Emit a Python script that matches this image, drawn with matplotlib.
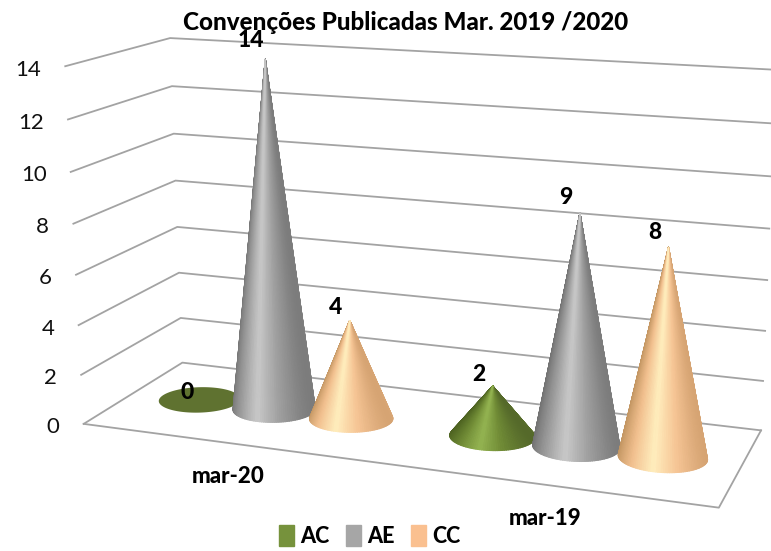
import numpy as np
import matplotlib
matplotlib.use('Agg')
import matplotlib.pyplot as plt
from matplotlib.collections import PolyCollection
from matplotlib.colors import LinearSegmentedColormap
from matplotlib.patches import Patch

plt.rcParams['font.family'] = ['Lato', 'DejaVu Sans']

# Data
months = ['mar-20', 'mar-19']
series = ['AC', 'AE', 'CC']
ac_values = [0, 2]
ae_values = [14, 9]
cc_values = [4, 8]
y_ticks = [0, 2, 4, 6, 8, 10, 12, 14]
y_max = 14

# Colours: edge, mid, highlight
ramps = {
    'AC': ['#4c6120', '#6f8a35', '#93b350', '#6f8a35', '#55692a'],
    'AE': ['#6e6e6e', '#9a9a9a', '#c8c8c8', '#a0a0a0', '#7c7c7c'],
    'CC': ['#c0935f', '#f2c08f', '#ffedbd', '#f6c595', '#d6a473'],
}
legend_colors = {'AC': '#76923c', 'AE': '#a6a6a6', 'CC': '#fac090'}
flat_color = '#5f7230'
grid_color = '#a3a3a3'

# Perspective of the box: (across, depth, height) -> picture pixel
box_world = [(0, 0, 0), (0, 0, 1), (0, 1, 0), (0, 1, 1), (1, 1, 0), (1, 1, 1), (1, 0, 0),
             (0, 0, .5), (0, 1, .5), (1, 1, .5), (1, 1, 2 / 7)]
box_pixel = [(84, 424), (65, 66), (182, 362), (171, 38), (761, 430), (775, 69), (719, 507),
             (74.5, 250), (176, 204), (769, 255), (765, 332)]

rows = []
for (wx, wd, wz), (px, py) in zip(box_world, box_pixel):
    rows.append([wx, wd, wz, 1, 0, 0, 0, 0, -px * wx, -px * wd, -px * wz, -px])
    rows.append([0, 0, 0, 0, wx, wd, wz, 1, -py * wx, -py * wd, -py * wz, -py])
cam = np.linalg.svd(np.array(rows, dtype=float))[2][-1].reshape(3, 4)


def project(x, d, v):
    x, d, v = np.broadcast_arrays(x, d, np.asarray(v, dtype=float) / y_max)
    h = cam @ np.array([x, d, v, np.ones_like(x)], dtype=float)
    return h[0] / h[2], h[1] / h[2]


fig = plt.figure(figsize=(7.71, 5.51), dpi=100)
ax = fig.add_axes([0, 0, 1, 1])
ax.set_xlim(0, 771)
ax.set_ylim(551, 0)
ax.axis('off')

# Walls and floor
for tick in y_ticks:
    xs, ys = project([0, 0, 1], [0, 1, 1], [tick, tick, tick])
    ax.plot(xs, ys, color=grid_color, lw=1.3, zorder=1)
    ax.text(xs[0] - 24, ys[0] + 3.5, str(tick), ha='right', va='center', fontsize=16, color='#111111')
xs, ys = project([1, 1, 0], [1, 0, 0], [0, 0, 0])
ax.plot(xs, ys, color=grid_color, lw=1.3, zorder=1)

# Cones
radius_x = 0.066
radius_d = 0.19
spacing = 0.133
theta = np.linspace(0, 2 * np.pi, 121)


def draw_cone(x, v, name):
    bx, by = project(x + radius_x * np.cos(theta), 0.5 - radius_d * np.sin(theta), 0)
    if v == 0:
        ax.fill(bx, by, color=flat_color, lw=0, zorder=3)
        return project(x, 0.5, 0)
    tx, ty = project(x, 0.5, v)
    cmap = LinearSegmentedColormap.from_list(name, ramps[name])
    mids = (theta[:-1] + theta[1:]) / 2
    order = np.argsort(np.sin(mids))  # back first
    facets = [[(tx, ty), (bx[i], by[i]), (bx[i + 1], by[i + 1])] for i in order]
    colors = cmap((np.cos(mids[order]) + 1) / 2)
    ax.add_collection(PolyCollection(facets, facecolors=colors, edgecolors=colors, linewidths=0.8, zorder=3))
    return tx, ty


values = {'AC': ac_values, 'AE': ae_values, 'CC': cc_values}
for m, month in enumerate(months):
    center = (m + 0.5) / 2
    for s, name in enumerate(series):
        v = values[name][m]
        x = center + (s - 1) * spacing
        top_x, top_y = draw_cone(x, v, name)
        if v == 0:
            lx, ly = top_x - 12, top_y - 7
        else:
            lx, ly = top_x - 14, top_y - 11 - 0.55 * v
        ax.text(lx, ly, str(v), ha='center', va='center', fontsize=16.5, fontweight='black', color='black', zorder=5)
    fx, fy = project(center, 0, 0)
    ax.text(fx, fy + 34, month, ha='center', va='center', fontsize=16, fontweight='black', color='black')

ax.text(406, 23, 'Convenções Publicadas Mar. 2019 /2020', ha='center', va='center',
        fontsize=17.4, fontweight='black', color='black', zorder=4)

handles = [Patch(color=legend_colors[name], label=name) for name in series]
ax.legend(handles=handles, ncol=3, frameon=False, loc='center', bbox_to_anchor=(370, 536),
          bbox_transform=ax.transData, prop={'size': 15.5, 'weight': 'black'},
          handlelength=0.7, handleheight=1.1, handletextpad=0.3, columnspacing=0.75,
          borderpad=0, borderaxespad=0)

fig.savefig('out.png', dpi=100)
